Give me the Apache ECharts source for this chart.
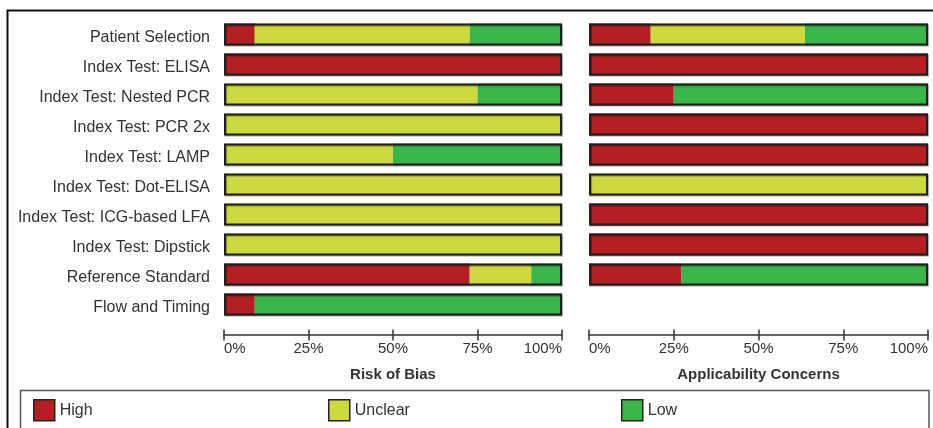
<!DOCTYPE html>
<html>
<head>
<meta charset="utf-8">
<script src="https://cdn.jsdelivr.net/npm/echarts@6/dist/echarts.min.js"></script>
<style>
  html, body { margin: 0; padding: 0; background: #fff; }
  #chart { width: 933px; height: 428px; }
</style>
</head>
<body>
<div id="chart"></div>
<script>
// Domains assessed (top to bottom)
const categories = [
  'Patient Selection', 'Index Test: ELISA', 'Index Test: Nested PCR', 'Index Test: PCR 2x',
  'Index Test: LAMP', 'Index Test: Dot-ELISA', 'Index Test: ICG-based LFA',
  'Index Test: Dipstick', 'Reference Standard', 'Flow and Timing'
];

// Risk of bias, percentage of studies per judgement
const riskHigh    = [9.1, 100, 0, 0, 0, 0, 0, 0, 72.7, 9.1];
const riskUnclear = [63.6, 0, 75, 100, 50, 100, 100, 100, 18.2, 0];
const riskLow     = [27.3, 0, 25, 0, 50, 0, 0, 0, 9.1, 90.9];

// Applicability concerns (no rating for Flow and Timing)
const appHigh    = [18.2, 100, 25, 100, 100, 0, 100, 100, 27.3, null];
const appUnclear = [45.5, 0, 0, 0, 0, 100, 0, 0, 0, null];
const appLow     = [36.4, 0, 75, 0, 0, 0, 0, 0, 72.7, null];

const tickLabels = ['0%', '25%', '50%', '75%', '100%'];
const judgements = ['High', 'Unclear', 'Low'];
const colors = { High: '#B41F24', Unclear: '#CED93F', Low: '#3AB54A' };

const FONT = 'Liberation Sans, Arial, sans-serif';
const TXT = '#333';

function outlineData(a, b, c) {
  return a.map((v, i) => (v == null && b[i] == null && c[i] == null) ? '-' : 100);
}

function stackSeries(gi, stack, vals) {
  return judgements.map((name, k) => ({
    name, type: 'bar', stack, xAxisIndex: gi, yAxisIndex: gi,
    barWidth: 22,
    itemStyle: { color: colors[name] },
    data: vals[k].map(v => v == null ? '-' : v),
    z: 2
  }));
}

function outlineSeries(gi, vals) {
  return {
    name: 'outline' + gi, type: 'bar', xAxisIndex: gi, yAxisIndex: gi,
    barWidth: 22, barGap: '-100%', silent: true,
    itemStyle: {
      color: 'rgba(0,0,0,0)', borderColor: '#1e1e1e', borderWidth: 2,
      shadowColor: 'rgba(0,0,0,0.35)', shadowOffsetX: 1, shadowOffsetY: 1, shadowBlur: 1
    },
    data: outlineData(vals[0], vals[1], vals[2]),
    z: 3
  };
}

function mainX(gi, name) {
  return {
    type: 'value', gridIndex: gi, min: 0, max: 100, interval: 25, position: 'bottom', offset: 15,
    name, nameLocation: 'middle', nameGap: 33,
    nameTextStyle: { fontFamily: FONT, fontSize: 15, fontWeight: 'bold', color: TXT },
    axisLine: { show: true, lineStyle: { color: '#333', width: 1.5 } },
    axisTick: { show: true, length: 6, lineStyle: { color: '#333', width: 1.5 } },
    axisLabel: {
      fontFamily: FONT, fontSize: 15, color: TXT, margin: 7,
      alignMinLabel: 'left', alignMaxLabel: 'right',
      formatter: v => tickLabels[Math.round(v / 25)]
    },
    splitLine: { show: false }
  };
}

function innerTickX(gi) {
  return {
    type: 'value', gridIndex: gi, min: 0, max: 100, interval: 25, position: 'bottom', offset: 15,
    axisLine: { show: false },
    axisTick: { show: true, inside: true, length: 5, lineStyle: { color: '#333', width: 1.5 } },
    axisLabel: { show: false },
    splitLine: { show: false }
  };
}

function catY(gi, showLabels) {
  return {
    type: 'category', gridIndex: gi, data: categories, inverse: true,
    axisLine: { show: false }, axisTick: { show: false },
    axisLabel: {
      show: showLabels, fontFamily: FONT, fontSize: 16, color: TXT, margin: 14,
      verticalAlign: 'top', lineHeight: 7
    }
  };
}

const chart = echarts.init(document.getElementById('chart'), null, { renderer: 'canvas' });

chart.setOption({
  animation: false,
  backgroundColor: '#fff',
  grid: [
    { left: 224, width: 338, top: 19.5, height: 300 },
    { left: 589, width: 339, top: 19.5, height: 300 }
  ],
  xAxis: [mainX(0, 'Risk of Bias'), mainX(1, 'Applicability Concerns'), innerTickX(0), innerTickX(1)],
  yAxis: [catY(0, true), catY(1, false)],
  legend: judgements.map((name, k) => ({
    data: [{ name, icon: 'rect' }], left: [33, 328, 621][k], top: 399, padding: 0,
    itemWidth: 21, itemHeight: 21, itemGap: 5,
    itemStyle: { borderColor: '#222', borderWidth: 1.5 },
    textStyle: { fontFamily: FONT, fontSize: 16, color: TXT },
    selectedMode: false
  })),
  graphic: [
    {
      type: 'rect', silent: true, z: -1,
      shape: { x: 7.5, y: 10.5, width: 1000, height: 600 },
      style: { fill: 'none', stroke: '#111', lineWidth: 2 }
    },
    {
      type: 'rect', silent: true, z: -1,
      shape: { x: 20.5, y: 390.5, width: 908.5, height: 100 },
      style: { fill: 'none', stroke: '#555', lineWidth: 1.5 }
    }
  ],
  series: [
    ...stackSeries(0, 'risk', [riskHigh, riskUnclear, riskLow]),
    outlineSeries(0, [riskHigh, riskUnclear, riskLow]),
    ...stackSeries(1, 'app', [appHigh, appUnclear, appLow]),
    outlineSeries(1, [appHigh, appUnclear, appLow])
  ]
});
</script>
</body>
</html>
